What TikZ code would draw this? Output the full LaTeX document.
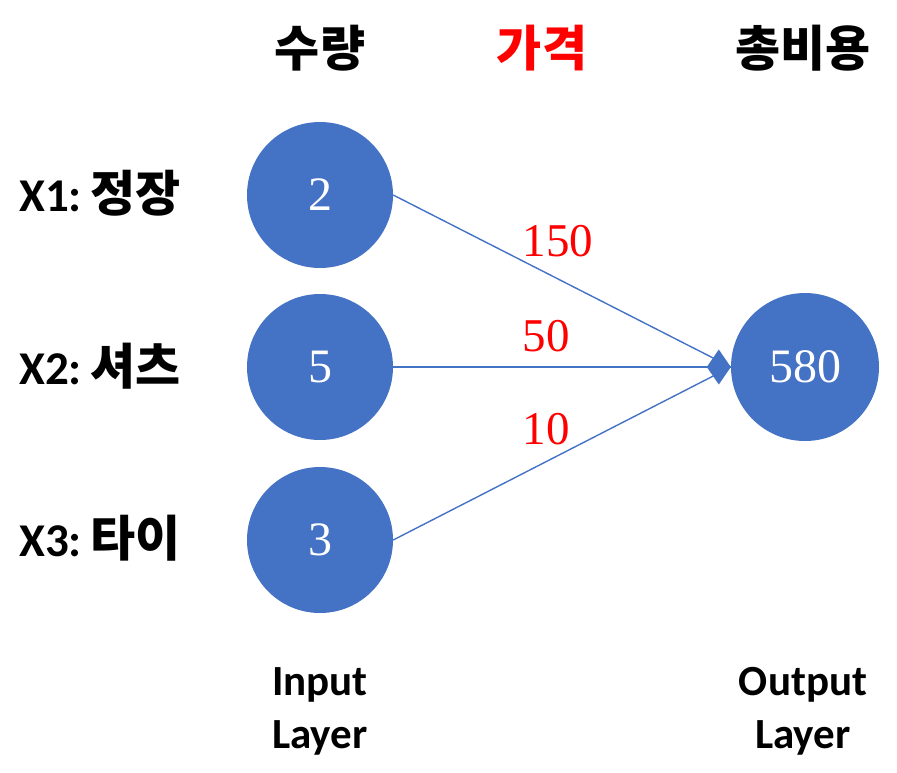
\documentclass[tikz,border=0pt]{standalone}
\usepackage{fontspec}
\setmainfont{Liberation Serif}
\newfontfamily\lat{Carlito}
\newfontfamily\kr{Noto Sans CJK KR}
\usetikzlibrary{arrows.meta}
\definecolor{nodeblue}{HTML}{4472C4}
\definecolor{wred}{HTML}{FF0000}
\tikzset{
  neuron/.style={circle, fill=nodeblue, draw=none, minimum size=146pt, inner sep=0pt,
    text=white, font=\fontsize{48}{50}\selectfont},
  outneuron/.style={neuron, minimum size=148pt},
  conn/.style={draw=nodeblue, line width=1.4pt},
  weight/.style={text=wred, font=\fontsize{47}{49}\selectfont, inner sep=0pt},
  header/.style={font=\kr\bfseries\fontsize{49}{51}\selectfont, inner sep=0pt},
  rowlabel/.style={anchor=west, inner sep=0pt},
  layerlabel/.style={font=\lat\bfseries\fontsize{43}{53}\selectfont, align=center, inner sep=0pt}
}
\newcommand{\rowtext}[2]{{\lat\bfseries\fontsize{47}{49}\selectfont #1}\hspace{9pt}{\kr\bfseries\fontsize{49}{51}\selectfont #2}}
\begin{document}
\begin{tikzpicture}[x=1pt,y=-1pt]
\useasboundingbox (0,0) rectangle (897,772);
% headers
\node[header] (h1) at (320,48) {수량};
\node[header, text=wred] (h2) at (542,48) {가격};
\node[header] (h3) at (803,48) {총비용};
% row labels
\node[rowlabel] (l1) at (19,193) {\rowtext{X1:}{정장}};
\node[rowlabel] (l2) at (19,366) {\rowtext{X2:}{셔츠}};
\node[rowlabel] (l3) at (19,538) {\rowtext{X3:}{타이}};
% neurons
\node[neuron] (i1) at (320,195) {2};
\node[neuron] (i2) at (320,367) {5};
\node[neuron] (i3) at (320,540) {3};
\node[outneuron] (o) at (805,367) {580};
% connectors
\draw[conn] (i1.east) -- (o.west);
\draw[conn] (i3.east) -- (o.west);
\draw[conn, -{Diamond[length=24pt,width=35pt]}] (i2.east) -- (o.west);
% weights
\node[weight] (w1) at (558,241) {150};
\node[weight] (w2) at (546,336) {50};
\node[weight] (w3) at (546,429) {10};
% layer labels
\node[layerlabel] (in) at (320,711) {Input\\Layer};
\node[layerlabel] (out) at (803,711) {Output\\Layer};
\end{tikzpicture}
\end{document}
